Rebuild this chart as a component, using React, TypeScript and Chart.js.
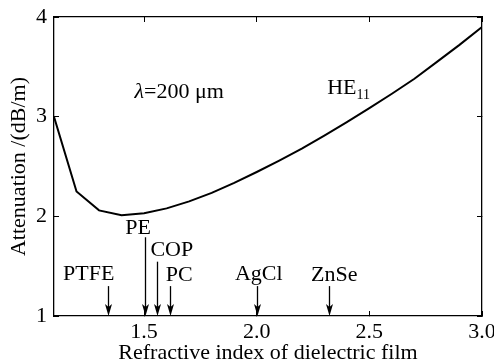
import React, { useEffect, useRef } from "react";
import { Chart, registerables } from "chart.js";

Chart.register(...registerables);

// Curve: HE11 attenuation vs refractive index of dielectric film
const refractiveIndex = [1.1, 1.2, 1.3, 1.4, 1.5, 1.6, 1.7, 1.8, 1.9, 2.0, 2.1, 2.2, 2.3, 2.4, 2.5, 2.6, 2.7, 2.8, 2.9, 3.0];
const attenuation = [3.0, 2.25, 2.06, 2.01, 2.03, 2.08, 2.15, 2.235, 2.335, 2.445, 2.56, 2.68, 2.81, 2.945, 3.085, 3.23, 3.38, 3.55, 3.72, 3.9];

// Axis ticks
const xTicks = [1.5, 2.0, 2.5, 3.0];
const yTicks = [1, 2, 3, 4];

// Material annotations (arrows)
const materials = ["PTFE", "PE", "COP", "PC", "AgCl", "ZnSe"];
const materialIndex = [1.338, 1.503, 1.558, 1.615, 2.0, 2.323];
const arrowTop = [1.3, 1.79, 1.545, 1.3, 1.3, 1.3];
const labelX = [1.254, 1.473, 1.623, 1.656, 2.009, 2.344];
const labelY = [1.417, 1.879, 1.663, 1.41, 1.42, 1.41];

// Text annotations
const lambdaText = { x: 1.656, y: 3.25, symbol: "λ", rest: "=200 μm" };
const modeText = { x: 2.3125, y: 3.29, main: "HE", sub: "11" };

const FONT = '"Liberation Serif", "Times New Roman", serif';

const annotPlugin = {
  id: "annot",
  afterDatasetsDraw(chart: any) {
    const { ctx } = chart;
    const x = chart.scales.x;
    const y = chart.scales.y;
    ctx.save();
    ctx.fillStyle = "#000";
    ctx.strokeStyle = "#000";
    materials.forEach((m, i) => {
      const px = Math.round(x.getPixelForValue(materialIndex[i])) + 0.5;
      const pTop = y.getPixelForValue(arrowTop[i]);
      const pBot = y.getPixelForValue(1);
      ctx.lineWidth = 1.3;
      ctx.beginPath();
      ctx.moveTo(px, pTop);
      ctx.lineTo(px, pBot - 6);
      ctx.stroke();
      ctx.beginPath();
      ctx.moveTo(px, pBot);
      ctx.lineTo(px - 3.5, pBot - 12);
      ctx.lineTo(px, pBot - 9);
      ctx.lineTo(px + 3.5, pBot - 12);
      ctx.closePath();
      ctx.fill();
      ctx.font = `22px ${FONT}`;
      ctx.textAlign = "center";
      ctx.textBaseline = "middle";
      ctx.fillText(m, x.getPixelForValue(labelX[i]), y.getPixelForValue(labelY[i]));
    });

    // lambda text
    ctx.textBaseline = "middle";
    ctx.textAlign = "left";
    ctx.font = `italic 22px ${FONT}`;
    const w1 = ctx.measureText(lambdaText.symbol).width;
    ctx.font = `22px ${FONT}`;
    const w2 = ctx.measureText(lambdaText.rest).width;
    const cx = x.getPixelForValue(lambdaText.x);
    const cy = y.getPixelForValue(lambdaText.y);
    const start = cx - (w1 + w2) / 2;
    ctx.font = `italic 22px ${FONT}`;
    ctx.fillText(lambdaText.symbol, start, cy);
    ctx.font = `22px ${FONT}`;
    ctx.fillText(lambdaText.rest, start + w1, cy);

    // HE11
    const hx = x.getPixelForValue(modeText.x);
    const hy = y.getPixelForValue(modeText.y);
    ctx.font = `22px ${FONT}`;
    ctx.fillText(modeText.main, hx, hy);
    const wm = ctx.measureText(modeText.main).width;
    ctx.font = `14px ${FONT}`;
    ctx.fillText(modeText.sub, hx + wm, hy + 8);
    ctx.restore();
  },
};

export default function App() {
  const ref = useRef<HTMLCanvasElement | null>(null);
  useEffect(() => {
    if (!ref.current) return;
    const setTicks = (vals: number[]) => (scale: any) => {
      scale.ticks = vals.map((v) => ({ value: v }));
    };
    const fitH = (h: number) => (s: any) => {
      s.height = h;
      s.paddingLeft = 0;
      s.paddingRight = 0;
      s.paddingTop = 0;
      s.paddingBottom = 0;
    };
    const fitW = (w: number) => (s: any) => {
      s.width = w;
      s.paddingLeft = 0;
      s.paddingRight = 0;
      s.paddingTop = 0;
      s.paddingBottom = 0;
    };
    const chart = new Chart(ref.current, {
      type: "line",
      data: {
        datasets: [
          {
            data: refractiveIndex.map((v, i) => ({ x: v, y: attenuation[i] })),
            borderColor: "#000",
            borderWidth: 2,
            pointRadius: 0,
            tension: 0,
            fill: false,
          },
        ],
      },
      options: {
        animation: false,
        responsive: false,
        devicePixelRatio: 1,
        layout: { padding: { top: 17, right: 12, left: 0, bottom: 0 } },
        plugins: { legend: { display: false }, tooltip: { enabled: false } },
        scales: {
          x: {
            type: "linear",
            position: "bottom",
            min: 1.1,
            max: 3.0,
            afterBuildTicks: setTicks(xTicks),
            afterFit: fitH(45),
            grid: { drawOnChartArea: false, drawTicks: true, tickLength: -5, color: "#000", lineWidth: 1 },
            border: { display: true, color: "#000", width: 1.3 },
            ticks: {
              padding: 8,
              color: "#000",
              font: { family: FONT, size: 22 },
              maxRotation: 0,
              autoSkip: false,
              callback: (v: any) => Number(v).toFixed(1),
            },
            title: {
              display: true,
              text: "Refractive index of dielectric film",
              color: "#000",
              font: { family: FONT, size: 22 },
              padding: { top: 0, bottom: -5 },
            },
          },
          x2: {
            type: "linear",
            position: "top",
            min: 1.1,
            max: 3.0,
            afterBuildTicks: setTicks(xTicks),
            afterFit: fitH(0),
            grid: { drawOnChartArea: false, drawTicks: true, tickLength: -5, color: "#000", lineWidth: 1 },
            border: { display: true, color: "#000", width: 1.3 },
            ticks: { display: false },
          },
          y: {
            type: "linear",
            position: "left",
            min: 1,
            max: 4,
            afterBuildTicks: setTicks(yTicks),
            afterFit: fitW(54),
            grid: { drawOnChartArea: false, drawTicks: true, tickLength: -5, color: "#000", lineWidth: 1 },
            border: { display: true, color: "#000", width: 1.3 },
            ticks: {
              padding: 12,
              color: "#000",
              font: { family: FONT, size: 22 },
              callback: (v: any) => String(v),
            },
            title: {
              display: true,
              text: "Attenuation /(dB/m)",
              color: "#000",
              font: { family: FONT, size: 22 },
              padding: { top: 6, bottom: 0 },
            },
          },
          y2: {
            type: "linear",
            position: "right",
            min: 1,
            max: 4,
            afterBuildTicks: setTicks(yTicks),
            afterFit: fitW(0),
            grid: { drawOnChartArea: false, drawTicks: true, tickLength: -5, color: "#000", lineWidth: 1 },
            border: { display: true, color: "#000", width: 1.3 },
            ticks: { display: false },
          },
        },
      },
      plugins: [annotPlugin],
    } as any);
    return () => chart.destroy();
  }, []);
  return (
    <div style={{ position: "fixed", left: 0, top: 0, width: 494, height: 361, background: "#fff" }}>
      <canvas ref={ref} width={494} height={361} />
    </div>
  );
}
